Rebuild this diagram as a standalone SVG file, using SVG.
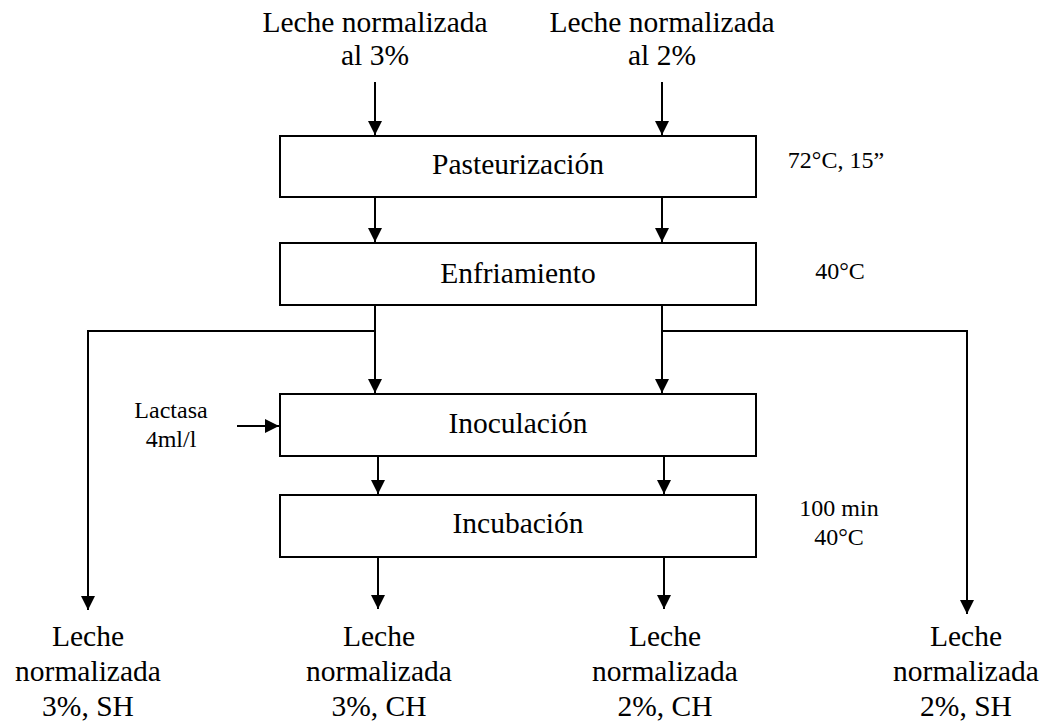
<svg xmlns="http://www.w3.org/2000/svg" width="1044" height="721" viewBox="0 0 1044 721">
<style>
.box{fill:#fff;stroke:#000;stroke-width:2}
.t{font-size:29.5px;fill:#000;text-anchor:middle}
.s{font-size:24px;fill:#000;text-anchor:middle}
.c{fill:none;stroke:#000;stroke-width:2}
</style>
<defs>
<marker id="ah" markerUnits="userSpaceOnUse" markerWidth="14" markerHeight="14" viewBox="0 0 14 14" refX="14" refY="7" orient="auto">
<path d="M0,0 L14,7 L0,14 Z" fill="#000"/>
</marker>
</defs>
<g font-family="Liberation Serif, Times New Roman, DejaVu Serif, serif">
<g id="inputs">
<text class="t" x="375" y="32">Leche normalizada</text>
<text class="t" x="375" y="65">al 3%</text>
<text class="t" x="662" y="32">Leche normalizada</text>
<text class="t" x="662" y="65">al 2%</text>
</g>
<g id="pasteurizacion">
<rect class="box" x="280" y="136" width="476" height="61"/>
<text class="t" x="518" y="174">Pasteurización</text>
</g>
<g id="enfriamiento">
<rect class="box" x="280" y="243" width="476" height="62"/>
<text class="t" x="518" y="283">Enfriamiento</text>
</g>
<g id="inoculacion">
<rect class="box" x="280" y="394" width="476" height="62"/>
<text class="t" x="518" y="433">Inoculación</text>
</g>
<g id="incubacion">
<rect class="box" x="280" y="495" width="476" height="62"/>
<text class="t" x="518" y="533">Incubación</text>
</g>
<g id="notes">
<text class="s" x="836" y="168">72°C, 15”</text>
<text class="s" x="840" y="279">40°C</text>
<text class="s" x="171" y="418">Lactasa</text>
<text class="s" x="171" y="447">4ml/l</text>
<text class="s" x="839" y="516">100 min</text>
<text class="s" x="839" y="545">40°C</text>
</g>
<g id="outputs">
<text class="t" x="88" y="646">Leche</text>
<text class="t" x="88" y="681">normalizada</text>
<text class="t" x="88" y="716">3%, SH</text>
<text class="t" x="379" y="646">Leche</text>
<text class="t" x="379" y="681">normalizada</text>
<text class="t" x="379" y="716">3%, CH</text>
<text class="t" x="665" y="646">Leche</text>
<text class="t" x="665" y="681">normalizada</text>
<text class="t" x="665" y="716">2%, CH</text>
<text class="t" x="966" y="646">Leche</text>
<text class="t" x="966" y="681">normalizada</text>
<text class="t" x="966" y="716">2%, SH</text>
</g>
</g>
<g id="connectors">
<path class="c" d="M375,82 V135" marker-end="url(#ah)"/>
<path class="c" d="M662,82 V135" marker-end="url(#ah)"/>
<path class="c" d="M375,197 V242" marker-end="url(#ah)"/>
<path class="c" d="M662,197 V242" marker-end="url(#ah)"/>
<path class="c" d="M375,305 V393" marker-end="url(#ah)"/>
<path class="c" d="M662,305 V393" marker-end="url(#ah)"/>
<path class="c" d="M375,331 H88 V610" marker-end="url(#ah)"/>
<path class="c" d="M662,331 H967 V614" marker-end="url(#ah)"/>
<path class="c" d="M237,426 H279" marker-end="url(#ah)"/>
<path class="c" d="M378,456 V494" marker-end="url(#ah)"/>
<path class="c" d="M664,456 V494" marker-end="url(#ah)"/>
<path class="c" d="M378,557 V609" marker-end="url(#ah)"/>
<path class="c" d="M664,557 V609" marker-end="url(#ah)"/>
</g>
</svg>
